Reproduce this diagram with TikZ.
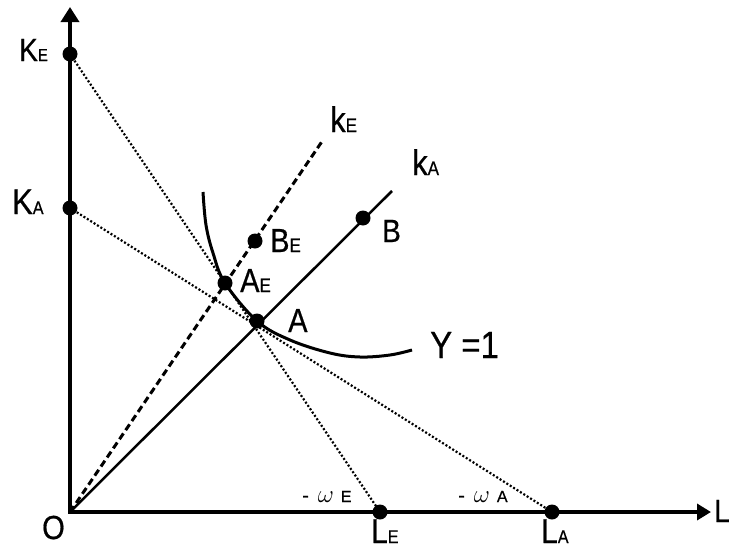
\documentclass[tikz,border=0pt]{standalone}
\usepackage{fontspec}
\usepackage{graphicx}
\setmainfont{Liberation Sans}[FakeBold=0.6]
\usetikzlibrary{arrows.meta}
\newcommand\lsub[2][16]{{\fontsize{#1}{#1}\selectfont #2}}
\newcommand\vst[1]{\scalebox{1}[1.15]{#1}}
\begin{document}
\begin{tikzpicture}[x=1pt,y=-1pt,
 dot/.style={circle,fill=black,inner sep=0pt,minimum size=15pt},
 lbl/.style={anchor=base west,inner sep=0pt,font=\fontsize{29}{29}\selectfont},
 axis/.style={line width=3.5pt,line join=miter,{Triangle[length=15pt,width=18pt]}-{Triangle[length=14pt,width=16pt]}},
 ray/.style={line width=2.5pt},
 dray/.style={line width=3pt,dash pattern=on 7pt off 4pt},
 dotl/.style={line width=2.2pt,dash pattern=on 2pt off 2pt},
 curve/.style={line width=3pt},
]
\useasboundingbox (0,0) rectangle (731,549);
% points
\coordinate (O) at (70,512);
\coordinate (Ytop) at (70,7);
\coordinate (Xend) at (711,512);
\coordinate (KE) at (70,54);
\coordinate (KA) at (70,208);
\coordinate (LE) at (380,512);
\coordinate (LA) at (552,512);
\coordinate (A) at (257,321);
\coordinate (B) at (363,218);
\coordinate (AE) at (225,283);
\coordinate (BE) at (255,241);
\coordinate (kAend) at (392,191);
\coordinate (kEend) at (323,140);
% dotted isocost lines
\draw[dotl] (KE) -- (LE);
\draw[dotl] (KA) -- (LA);
% rays
\draw[dray] (O) -- (kEend);
\draw[ray] (O) -- (kAend);
% isoquant
\draw[curve] plot[smooth,tension=0.6] coordinates {(203,192) (206,225) (213,253) (225,283) (257,321) (290,340) (330,353) (360,357) (390,355) (412,350)};
% axes
\draw[axis] (Ytop) -- (O) -- (Xend);
% dots
\node[dot] (dKE) at (KE) {};
\node[dot] (dKA) at (KA) {};
\node[dot] (dLE) at (LE) {};
\node[dot] (dLA) at (LA) {};
\node[dot] (dA) at (A) {};
\node[dot] (dB) at (B) {};
\node[dot] (dAE) at (AE) {};
\node[dot] (dBE) at (BE) {};
% labels
\node[lbl,font=\fontsize{28}{28}\selectfont] (tKE) at (19,61) {\vst{K\lsub[15]{E}}};
\node[lbl,font=\fontsize{31}{31}\selectfont] (tKA) at (12,214) {\vst{K\lsub[16]{A}}};
\node[lbl,font=\fontsize{29}{29}\selectfont] (tO) at (42,539) {\vst{O}};
\node[lbl,font=\fontsize{30}{30}\selectfont] (tLE) at (371,543) {\vst{L\lsub[16]{E}}};
\node[lbl,font=\fontsize{30}{30}\selectfont] (tLA) at (541,543) {\vst{L\lsub[16]{A}}};
\node[lbl,font=\fontsize{28}{28}\selectfont] (tL) at (714,522) {\vst{L}};
\node[lbl] (tA) at (288,332) {\vst{A}};
\node[lbl,font=\fontsize{28}{28}\selectfont] (tB) at (382,242) {\vst{B}};
\node[lbl] (tAE) at (240,292) {\vst{A\lsub[17]{E}}};
\node[lbl] (tBE) at (270,252) {\vst{B\lsub[17]{E}}};
\node[lbl,font=\fontsize{31}{31}\selectfont] (tkE) at (330,132) {\vst{k\lsub[17]{E}}};
\node[lbl,font=\fontsize{31}{31}\selectfont] (tkA) at (412,175) {\vst{k\lsub[17]{A}}};
\node[lbl,font=\fontsize{33}{33}\selectfont] (tY) at (430,358) {\vst{Y =1}};
\node[lbl,font=\fontsize{20}{20}\selectfont] (twE) at (302,502) {-\hspace{9pt}{\fontsize{28}{28}\selectfont$\omega$}\hspace{7pt}\lsub[16]{E}};
\node[lbl,font=\fontsize{20}{20}\selectfont] (twA) at (458,502) {-\hspace{9pt}{\fontsize{28}{28}\selectfont$\omega$}\hspace{7pt}\lsub[16]{A}};
\end{tikzpicture}
\end{document}
